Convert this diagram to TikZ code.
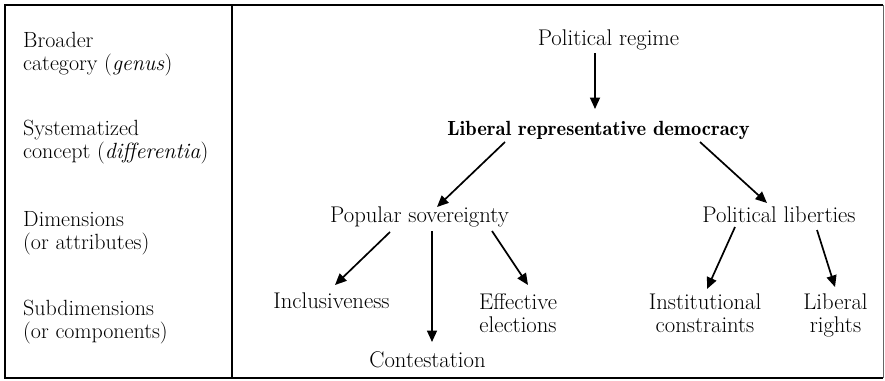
\documentclass[tikz,border=0pt]{standalone}
\usetikzlibrary{arrows.meta}
\begin{document}
\begin{tikzpicture}[x=1pt,y=-1pt,
  txt/.style={inner sep=0pt,font=\fontsize{22.7}{23}\selectfont},
  lbl/.style={inner sep=0pt,font=\fontsize{22}{23}\selectfont,align=left,anchor=north west},
  mtxt/.style={txt,align=center,anchor=north},
  btxt/.style={txt,anchor=base},
  arr/.style={line width=1.7pt,-{Triangle[length=11.5pt,width=10pt]}},
  frame/.style={line width=2.2pt}]
\useasboundingbox (0,0) rectangle (885,380);
\draw[frame] (883.3,4.7) -- (5,4.7) -- (5,378.3) -- (883.3,378.3);
\draw[line width=1.2pt,black!60] (883.3,4.7) -- (883.3,378.3);
\draw[frame] (232.3,4.7) -- (232.3,378.3);
% left labels
\node[lbl] (l1) at (23,31.7) {Broader\\category (\textit{genus})};
\node[lbl] (l2) at (23,119.7) {Systematized\\concept (\textit{differentia})};
\node[lbl] (l3) at (23,211.7) {Dimensions\\(or attributes)};
\node[lbl] (l4) at (23,299.7) {Subdimensions\\(or components)};
% tree
\node[btxt] (pr) at (608.5,45) {Political regime};
\node[btxt,font=\fontsize{20.5}{23}\fontseries{b}\selectfont] (lrd) at (598.5,135) {Liberal representative democracy};
\node[btxt] (ps) at (419.5,222) {Popular sovereignty};
\node[btxt] (pl) at (779,222) {Political liberties};
\node[btxt] (inc) at (331.5,308) {Inclusiveness};
\node[btxt] (con) at (427.5,367) {Contestation};
\node[mtxt] (eff) at (518,293.2) {Effective\\elections};
\node[mtxt] (ic) at (705,293.2) {Institutional\\constraints};
\node[mtxt] (lr) at (835.5,293.2) {Liberal\\rights};
\draw[arr] ([shift={(-13.5,8)}]pr.base) -- ([shift={(-3.5,-26)}]lrd.base);
\draw[arr] ([shift={(-93.5,7)}]lrd.base) -- ([shift={(17.5,-15)}]ps.base);
\draw[arr] ([shift={(101.5,7)}]lrd.base) -- ([shift={(-12,-19)}]pl.base);
\draw[arr] ([shift={(-29.5,10)}]ps.base) -- ([shift={(3.5,-23)}]inc.base);
\draw[arr] ([shift={(12.5,9)}]ps.base) -- ([shift={(4.5,-25)}]con.base);
\draw[arr] ([shift={(72.5,9)}]ps.base) -- ([shift={(10,-8.2)}]eff.north);
\draw[arr] ([shift={(-44,5)}]pl.base) -- ([shift={(2,-4.2)}]ic.north);
\draw[arr] ([shift={(38,8)}]pl.base) -- ([shift={(-0.5,-6.2)}]lr.north);
\end{tikzpicture}
\end{document}
